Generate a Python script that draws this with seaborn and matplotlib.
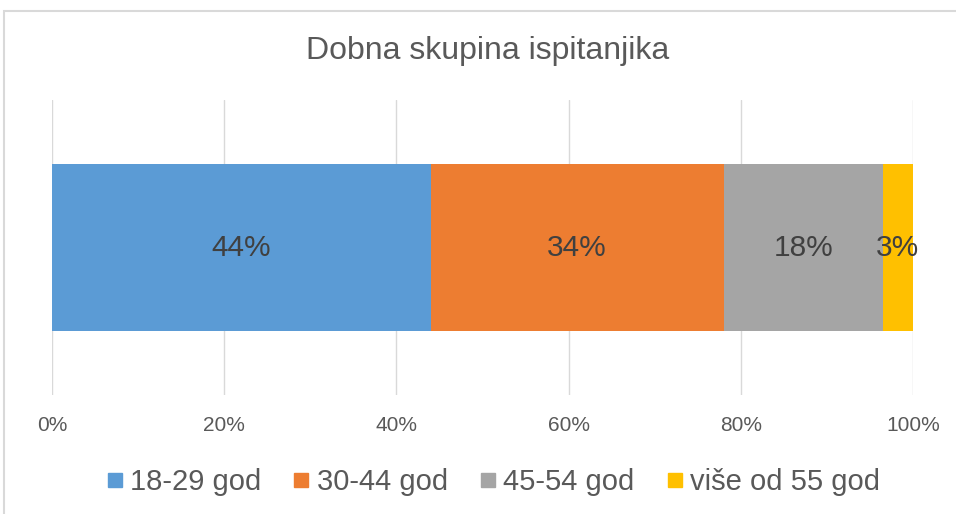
import matplotlib
matplotlib.use("Agg")
import matplotlib.pyplot as plt
import seaborn as sns
import numpy as np
import pandas as pd
from matplotlib.lines import Line2D
from matplotlib.patches import Rectangle

# ---- data ----
title = "Dobna skupina ispitanjika"
categories = ["18-29 god", "30-44 god", "45-54 god", "više od 55 god"]
values = [44.0, 34.0, 18.5, 3.5]
value_labels = ["44%", "34%", "18%", "3%"]
tick_values = [0, 20, 40, 60, 80, 100]
tick_labels = ["0%", "20%", "40%", "60%", "80%", "100%"]
colors = ["#5B9BD5", "#ED7D31", "#A5A5A5", "#FFC000"]

sns.set_theme(style="white")
plt.rcParams["font.family"] = ["Liberation Sans", "DejaVu Sans"]

W, H = 956, 514
fig = plt.figure(figsize=(W / 100, H / 100), dpi=100)
ax = fig.add_axes([52 / W, 1 - 395 / H, (913 - 52) / W, (395 - 100) / H])

cum = np.cumsum(values)
df = pd.DataFrame({"group": categories, "end": cum, "row": [""] * len(categories)})

# stacked bar: draw cumulative totals from the largest down
for i in reversed(range(len(categories))):
    sns.barplot(data=df.iloc[[i]], x="end", y="row", orient="h",
                color=colors[i], width=0.563, linewidth=0, saturation=1,
                ax=ax)

ax.set_ylim(0.5, -0.5)
ax.set_xlim(0, 100)
ax.set_xticks(tick_values)
ax.set_xticklabels(tick_labels)
ax.set_yticks([])
ax.set_xlabel("")
ax.set_ylabel("")
ax.tick_params(axis="x", length=0, pad=15, labelsize=15, labelcolor="#595959")
ax.grid(axis="x", color="#D9D9D9", linewidth=1)
ax.set_axisbelow(True)
for s in ax.spines.values():
    s.set_visible(False)

starts = cum - np.array(values)
for st, v, lab in zip(starts, values, value_labels):
    ax.text(st + v / 2, 0, lab, ha="center", va="center",
            fontsize=21.5, color="#404040")

fig.text(488 / W, 1 - 51 / H, title, ha="center", va="center",
         fontsize=23, color="#595959")

handles = [Line2D([], [], marker="s", linestyle="", color=c, markersize=9.5)
           for c in colors]
fig.legend(handles, categories, loc="center", bbox_to_anchor=(494 / W, 1 - 482 / H),
           ncol=4, frameon=False, fontsize=21, handlelength=0.45,
           handletextpad=0.3, columnspacing=1.15, labelcolor="#595959")

# chart area border (partly cropped in the reference)
fig.patches.append(Rectangle((4 / W, -0.05), 1.2, 1 - 11 / H + 0.05,
                             transform=fig.transFigure, fill=False,
                             edgecolor="#D9D9D9", linewidth=1.5))

fig.savefig("out.png", dpi=100)
